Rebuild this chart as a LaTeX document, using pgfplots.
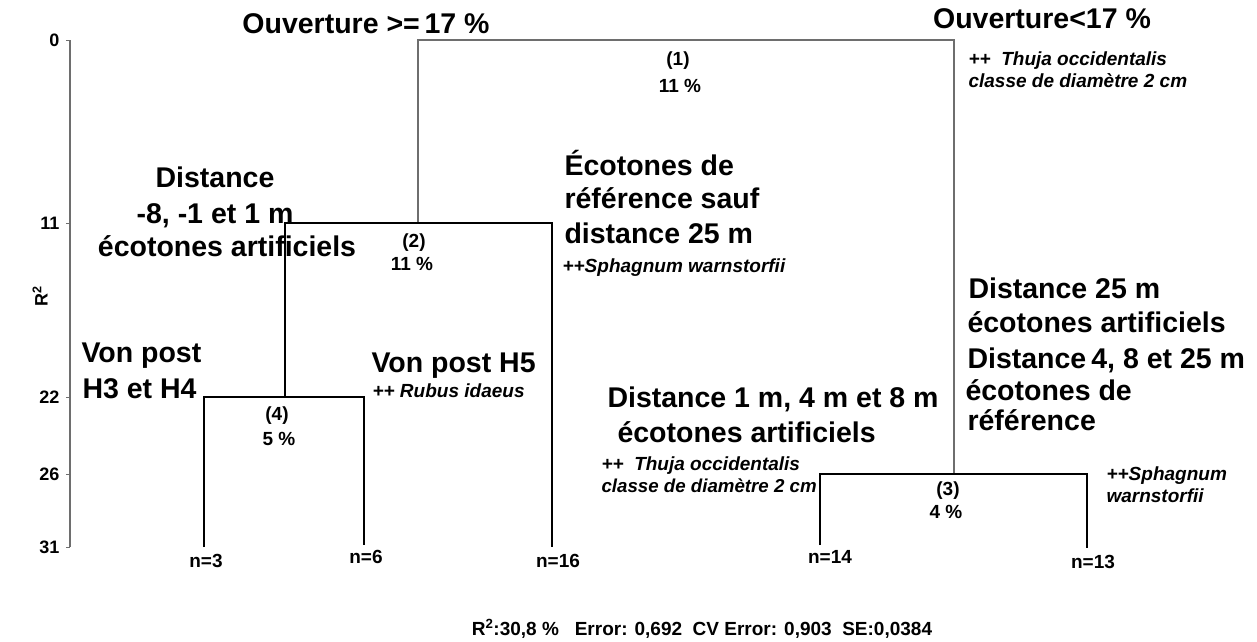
\documentclass[border=0pt]{standalone}
\usepackage{pgfplots}
\pgfplotsset{compat=1.18}
\usepackage{fontspec}
\setmainfont{Liberation Sans}
\definecolor{treegray}{HTML}{6E6E6E}
\begin{document}
\begin{tikzpicture}
\begin{axis}[
  scale only axis, width=1187pt, height=507pt,
  xmin=70, xmax=1257, ymin=40, ymax=547,
  y dir=reverse, clip=false,
  axis x line=none, axis y line*=left,
  y axis line style={treegray, line width=1.2pt, -},
  ytick={40,223,397,474,547},
  yticklabels={0,11,22,26,31},
  tick align=outside, major tick length=4pt,
  ytick style={treegray, line width=0.8pt},
  yticklabel style={font=\fontsize{18}{21}\selectfont\bfseries, xshift=-3pt},
  /pgf/number format/assume math mode=true,
]
% bounding box of the whole picture
\path (axis cs:0,0) rectangle (axis cs:1257,641);
% root split
\addplot[treegray, line width=1.3pt] coordinates {(418,223) (418,40) (954,40) (954,474)};
% node 2
\addplot[black, line width=1.3pt] coordinates {(285,397) (285,223) (552,223) (552,547)};
% node 4
\addplot[black, line width=1.3pt] coordinates {(204,547) (204,397) (364,397) (364,545)};
% node 3
\addplot[black, line width=1.3pt] coordinates {(820,545) (820,474) (1087,474) (1087,548)};

\tikzset{big/.style={font=\fontsize{28.5}{33}\selectfont\bfseries},
         num/.style={font=\fontsize{19}{22}\selectfont\bfseries},
         sp/.style={font=\fontsize{19}{22}\selectfont\bfseries\itshape}}
% y label
\node[rotate=90, font=\fontsize{18}{21}\selectfont\bfseries] at (axis cs:40,296) {R\textsuperscript{2}};
% top labels
\node[big, anchor=base] at (axis cs:366,33) {Ouverture >=\,17 \%};
\node[big, anchor=base] at (axis cs:1042,28) {Ouverture<17 \%};
\node[num, anchor=base] at (axis cs:678,65) {(1)};
\node[num, anchor=base] at (axis cs:680,92) {11 \%};
\node[sp, anchor=base west] at (axis cs:965,65) {++\ \ Thuja occidentalis};
\node[sp, anchor=base west] at (axis cs:965,87) {classe de diamètre 2 cm};
% left branch labels
\node[big, anchor=base] at (axis cs:215,187) {Distance};
\node[big, anchor=base] at (axis cs:215,223) {-8, -1 et 1 m};
\node[big, anchor=base] at (axis cs:227,256) {écotones artificiels};
\node[num, anchor=base] at (axis cs:414,247) {(2)};
\node[num, anchor=base] at (axis cs:412,270) {11 \%};
\node[big, anchor=base west] at (axis cs:561,175) {Écotones de};
\node[big, anchor=base west] at (axis cs:561,208) {référence sauf};
\node[big, anchor=base west] at (axis cs:561,243) {distance 25 m};
\node[sp, anchor=base west] at (axis cs:559,272) {++Sphagnum warnstorfii};
\node[big, anchor=base west] at (axis cs:78,362) {Von post};
\node[big, anchor=base west] at (axis cs:79,398) {H3 et H4};
\node[big, anchor=base west] at (axis cs:368,372) {Von post H5};
\node[sp, anchor=base west] at (axis cs:369,397) {++ Rubus idaeus};
\node[num, anchor=base] at (axis cs:277,420) {(4)};
\node[num, anchor=base] at (axis cs:279,445) {5 \%};
% right branch labels
\node[big, anchor=base west] at (axis cs:604,407) {Distance 1 m, 4 m et 8 m};
\node[big, anchor=base west] at (axis cs:614,442) {écotones artificiels};
\node[sp, anchor=base west] at (axis cs:598,470) {++\ \ Thuja occidentalis};
\node[sp, anchor=base west, font=\fontsize{18.7}{22}\selectfont\bfseries\itshape] at (axis cs:598,492) {classe de diamètre 2 cm};
\node[big, anchor=base west] at (axis cs:965,298) {Distance 25 m};
\node[big, anchor=base west] at (axis cs:964,332) {écotones artificiels};
\node[big, anchor=base west] at (axis cs:964,368) {Distance\hspace{5pt}4, 8 et 25 m};
\node[big, anchor=base west] at (axis cs:962,400) {écotones de};
\node[big, anchor=base west] at (axis cs:964,430) {référence};
\node[sp, anchor=base west] at (axis cs:1103,480) {++Sphagnum};
\node[sp, anchor=base west] at (axis cs:1103,502) {warnstorfii};
\node[num, anchor=base] at (axis cs:948,495) {(3)};
\node[num, anchor=base] at (axis cs:946,518) {4 \%};
% leaves
\node[num, anchor=base] at (axis cs:206,567) {n=3};
\node[num, anchor=base] at (axis cs:366,563) {n=6};
\node[num, anchor=base] at (axis cs:558,567) {n=16};
\node[num, anchor=base] at (axis cs:830,563) {n=14};
\node[num, anchor=base] at (axis cs:1093,568) {n=13};
% summary
\node[num, anchor=base] at (axis cs:702,635) {R\textsuperscript{2}:30,8 \%\ \ \ Error: 0,692\ \ CV Error: 0,903\ \ SE:0,0384};
\end{axis}
\end{tikzpicture}
\end{document}
